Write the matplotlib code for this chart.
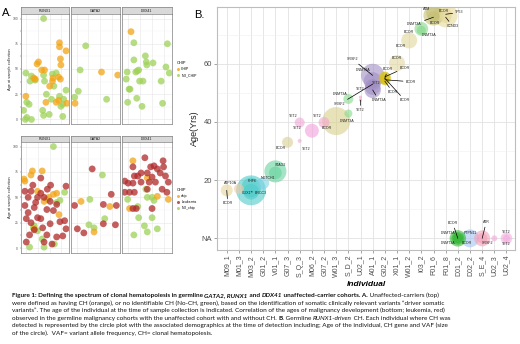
import numpy as np
import matplotlib
matplotlib.use("Agg")
import matplotlib.pyplot as plt
from matplotlib.lines import Line2D

W, H = 520, 344
PLOT_FONT = "Liberation Sans"
CAPTION_FONT = "Lato"
plt.rcParams["font.family"] = [PLOT_FONT, "DejaVu Sans"]

# ---------------------------------------------------------------- panel A data
FACETS = ["RUNX1", "GATA2", "DDX41"]

# (position inside facet 0-1, age at sample collection)
top_runx1_chip = [(0.81, 76), (0.81, 72), (0.95, 68), (0.83, 60), (0.84, 54), (0.33, 55), (0.36, 57),
                  (0.43, 49), (0.49, 49), (0.29, 40), (0.26, 41), (0.67, 41), (0.66, 38), (0.79, 42),
                  (0.83, 40), (0.60, 33), (0.09, 23), (0.52, 17), (0.74, 17), (0.79, 19), (0.97, 16)]
top_runx1_nochip = [(0.47, 100), (0.09, 46), (0.21, 43), (0.29, 39), (0.18, 38), (0.47, 44), (0.66, 45),
                    (0.74, 46), (0.49, 38), (0.69, 33), (0.95, 29), (0.53, 25), (0.81, 23), (0.64, 20),
                    (0.90, 20), (0.11, 17), (0.16, 15), (0.04, 9), (0.45, 9), (0.47, 4), (0.59, 5),
                    (0.88, 3), (0.11, 2), (0.08, 0), (0.21, 0), (0.88, 15), (0.84, 13)]
top_gata2_chip = [(0.63, 47), (0.98, 44), (0.06, 16)]
top_gata2_nochip = [(0.29, 73), (0.17, 49), (0.13, 28), (0.05, 22), (0.74, 20)]
top_ddx41_chip = [(0.17, 87)]
top_ddx41_nochip = [(0.23, 76), (0.93, 75), (0.47, 63), (0.23, 59), (0.49, 57), (0.50, 54), (0.63, 56),
                    (0.30, 48), (0.27, 47), (0.33, 49), (0.09, 47), (0.90, 52), (0.97, 46), (0.07, 40),
                    (0.35, 38), (0.42, 38), (0.13, 30), (0.15, 30), (0.80, 38), (0.29, 21), (0.10, 17),
                    (0.83, 16), (0.40, 13)]

bot_runx1_chip = [(0.05, 68), (0.23, 76), (0.44, 76), (0.20, 72), (0.68, 53), (0.34, 56), (0.48, 46),
                  (0.80, 33), (0.27, 19), (0.07, 66), (0.58, 50), (0.75, 54)]
bot_runx1_leuk = [(0.41, 69), (0.24, 62), (0.07, 56), (0.20, 56), (0.41, 54), (0.34, 50), (0.14, 50),
                  (0.48, 50), (0.61, 46), (0.75, 43), (0.07, 42), (0.27, 40), (0.54, 38), (0.14, 35),
                  (0.68, 37), (0.10, 29), (0.41, 29), (0.61, 24), (0.82, 26), (0.27, 18), (0.17, 13),
                  (0.54, 13), (0.75, 11), (0.88, 12), (0.10, 6), (0.48, 6), (0.65, 4), (0.95, 19),
                  (0.92, 27), (0.95, 61), (0.34, 30), (0.55, 58), (0.62, 62), (0.30, 45), (0.20, 25),
                  (0.45, 20)]
bot_runx1_nochip = [(0.68, 100), (0.27, 22), (0.34, 17), (0.75, 45), (0.92, 55), (0.82, 47), (0.44, 9),
                    (0.17, 1), (0.48, 1), (0.70, 4), (0.25, 20), (0.55, 48)]
bot_gata2_chip = [(0.19, 46), (0.81, 41), (0.47, 16)]
bot_gata2_leuk = [(0.43, 78), (0.84, 53), (0.05, 42), (0.67, 43), (0.95, 42), (0.11, 19), (0.25, 15),
                  (0.67, 24), (0.93, 23)]
bot_gata2_nochip = [(0.65, 72), (0.38, 48), (0.36, 23), (0.70, 29), (0.47, 20)]
bot_ddx41_chip = [(0.21, 86), (0.51, 69), (0.14, 39), (0.72, 51), (0.95, 48)]
bot_ddx41_leuk = [(0.46, 89), (0.21, 80), (0.84, 86), (0.04, 66), (0.11, 64), (0.21, 64), (0.24, 71),
                  (0.31, 71), (0.38, 74), (0.51, 74), (0.58, 80), (0.65, 81), (0.72, 78), (0.78, 74),
                  (0.85, 80), (0.89, 71), (0.61, 70), (0.68, 65), (0.55, 65), (0.38, 65), (0.14, 55),
                  (0.04, 55), (0.24, 55), (0.51, 58), (0.82, 58), (0.92, 55), (0.21, 39), (0.28, 39),
                  (0.61, 39), (0.95, 65)]
bot_ddx41_nochip = [(0.10, 48), (0.31, 41), (0.48, 58), (0.51, 50), (0.61, 50), (0.65, 47), (0.33, 30),
                    (0.61, 30), (0.45, 22), (0.51, 16), (0.72, 19), (0.23, 13)]

ORANGE, GREEN, RED = "#f2a516", "#9fd25a", "#b02a2a"

# ---------------------------------------------------------------- panel B data
individuals = ["M09_1", "M01_3", "M03_2", "G01_2", "V01_1", "G07_3", "S_Q_3", "M06_2", "G07_2",
               "W01_3", "S_D_2", "U02_1", "A01_1", "G02_2", "X01_1", "W01_2", "I03_2", "F01_6",
               "F01_8", "D01_2", "D02_2", "S_E_4", "U02_3", "U02_4"]
ind_colors = ["#e6d69c", "#f5c8a4", "#4fcaca", "#7dd3e4", "#66d39e", "#d8d092", "#f4a6d7", "#f29fdc",
              "#f4a6cf", "#dacf8a", "#86db8c", "#f2a0c8", "#a18fc4", "#d9c21c", "#e2d8a0", "#e0d89a",
              "#84d88a", "#c4bf74", "#e6da9c", "#38b838", "#a4c4f2", "#f3a0b8", "#f0a8d8", "#f4aee0"]

NA = np.nan
var_ind = ["M09_1", "M01_3", "M03_2", "M03_2", "M03_2", "G01_2", "V01_1", "V01_1", "G07_3", "S_Q_3",
           "S_Q_3", "M06_2", "G07_2", "W01_3", "S_D_2", "S_D_2", "U02_1", "U02_1", "A01_1", "A01_1",
           "A01_1", "A01_1", "A01_1", "G02_2", "G02_2", "G02_2", "G02_2", "G02_2", "X01_1", "W01_2",
           "I03_2", "I03_2", "F01_6", "F01_6", "F01_6", "F01_8", "F01_8", "F01_8", "D01_2", "D01_2",
           "D01_2", "D01_2", "D02_2", "S_E_4", "S_E_4", "U02_3", "U02_4", "U02_4"]
var_age = [16.5, 17, 16.5, 17.5, 16, 19, 23, 22.5, 33, 39.8, 33.5, 37, 39.8, 40.3, 42.9, 47.9, 48.5,
           47.5, 56, 54, 52, 51, 53, 55, 55.5, 54.5, 54, 55, 60.2, 68, 72, 71.5, 76.6, 77.5, 76, 76.6,
           77, 76, NA, NA, NA, NA, NA, NA, NA, NA, NA, NA]
var_vaf = [5.3, 3.7, 33, 14, 9, 5.3, 18, 6, 4.5, 3.7, 0.6, 7.2, 4.5, 29, 2.4, 3.7, 0.4, 0.4, 20, 12,
           9, 10, 3, 6, 4, 3, 2.5, 2, 9.5, 9.5, 7, 3, 15, 8, 5, 21, 6, 5, 10, 6, 4, 3, 12, 9.5, 4,
           1.3, 5, 2]
var_gene = ["BCOR", "ATP10A", "CUX1", "PHF6", "BRCC3", "CUX1", "STAG2", "NOTCH1", "BCOR", "TET2",
            "TET2", "TET2", "TET2", "BCOR", "DNMT3A", "DNMT3A", "TET2", "TET2", "SRSF2", "DNMT3A",
            "TET2", "DNMT3A", "SRSF2", "BCOR", "BCOR", "BCOR", "BCOR", "BCOR", "BCOR", "BCOR", "BCOR",
            "DNMT3A", "BCOR", "ATM", "DNMT3A", "BCOR", "TP53", "CCND3", "DNMT3A", "DNMT3A", "BCOR",
            "BCOR", "PTPN11", "ATR", "SRSF2", "TET2", "TET2", "TET2"]
# label offsets in pixels (dx, dy) and whether a leader line is drawn
lab_dx = [1, -8, -4, 1, 10, None, 5, -7, -7, -6, 7, -15, -7, -9, -1, -8, 0, 0, -20, -10, 4, 6, -33,
          3, 20, 26, 8, 20, 0, -8, -12, 8, 1, -7, -19, -2, 14, 7, -10, -10, -5, 9, 0, 4, 5, None, 0, 0]
lab_dy = [-13, 6, -3, 6, -1, None, 6, -5, -6, 7, -8, 3, 7, -7, -7, 5, 8, -10, 16, 11, 4, -10, -20,
          9, 9, -2, -11, -22, 5, -6, -3, -5, -8, 4, -7, 4, 2, -9, 5, -5, 15, -5, 5, 16, -5, None, 6, -6]
lab_line = [1, 0, 0, 0, 1, 0, 0, 0, 0, 0, 0, 0, 0, 0, 0, 0, 0, 1, 1, 0, 0, 1, 1,
            1, 1, 1, 1, 1, 0, 0, 0, 0, 0, 0, 1, 0, 1, 1, 0, 0, 1, 0, 0, 1, 0, 0, 0, 0]


def box(x0, y0, x1, y1):
    return [x0 / W, 1 - y1 / H, (x1 - x0) / W, (y1 - y0) / H]


def facet_row(fig, strip_y, panel_y, groups):
    xs = [(20.7, 69.3), (71.3, 119.6), (121.9, 171.7)]
    for k, name in enumerate(FACETS):
        x0, x1 = xs[k]
        st = fig.add_axes(box(x0, strip_y[0], x1, strip_y[1]))
        st.set_facecolor("#d9d9d9")
        st.set_xticks([]); st.set_yticks([])
        for s in st.spines.values():
            s.set_color("#7f7f7f"); s.set_linewidth(0.5)
        st.text(0.5, 0.5, name, ha="center", va="center", fontsize=2.6, color="#1a1a1a")

        ax = fig.add_axes(box(x0, panel_y[0], x1, panel_y[1]))
        ax.set_xlim(-0.02, 1.02)
        ax.set_ylim(-4.5, 104.5)
        ax.set_yticks([0, 25, 50, 75, 100])
        ax.set_yticks([12.5, 37.5, 62.5, 87.5], minor=True)
        ax.set_xticks([0.1, 0.35, 0.6, 0.85])
        ax.grid(which="major", color="#e6e6e6", lw=0.4)
        ax.grid(which="minor", axis="y", color="#f2f2f2", lw=0.3)
        ax.set_axisbelow(True)
        ax.tick_params(axis="x", length=0, labelbottom=False)
        ax.tick_params(axis="y", which="both", length=1, width=0.3, colors="#555555", labelsize=2.4, pad=0.8)
        if k > 0:
            ax.tick_params(axis="y", which="both", length=0, labelleft=False)
        for s in ax.spines.values():
            s.set_color("#7f7f7f"); s.set_linewidth(0.5)
        for pts, col in groups[k]:
            p = np.array(pts)
            ax.scatter(p[:, 0], p[:, 1], s=24, color=col, alpha=0.75, edgecolors="none")
    fig.text(10 / W, 1 - (panel_y[0] + panel_y[1]) / 2 / H, "Age at sample collection",
             rotation=90, ha="center", va="center", fontsize=2.8, color="#222222")


def advance(fig, r, s, kw):
    a = fig.text(0, 0, s + "|", **kw)
    b = fig.text(0, 0, "|", **kw)
    w = a.get_window_extent(r).width - b.get_window_extent(r).width
    a.remove(); b.remove()
    return w


def rich_line(fig, x, y, runs, size):
    r = fig.canvas.get_renderer()
    styles = {"n": ("normal", "normal"), "b": ("bold", "normal"),
              "i": ("normal", "italic"), "bi": ("bold", "italic")}
    for text, st in runs:
        wt, sl = styles[st]
        kw = dict(fontsize=size, fontweight=wt, fontstyle=sl, family=CAPTION_FONT, color="#111111")
        fig.text(x / W, 1 - y / H, text, ha="left", va="baseline", **kw)
        x += advance(fig, r, text, kw)


fig = plt.figure(figsize=(W / 100, H / 100), dpi=100)

# ---------------------------------------------------------------- panel A
facet_row(fig, (7.3, 14), (14, 124),
          [[(top_runx1_nochip, GREEN), (top_runx1_chip, ORANGE)],
           [(top_gata2_nochip, GREEN), (top_gata2_chip, ORANGE)],
           [(top_ddx41_nochip, GREEN), (top_ddx41_chip, ORANGE)]])
facet_row(fig, (136, 142), (142, 252.7),
          [[(bot_runx1_nochip, GREEN), (bot_runx1_chip, ORANGE), (bot_runx1_leuk, RED)],
           [(bot_gata2_nochip, GREEN), (bot_gata2_chip, ORANGE), (bot_gata2_leuk, RED)],
           [(bot_ddx41_nochip, GREEN), (bot_ddx41_chip, ORANGE), (bot_ddx41_leuk, RED)]])


def dot(c):
    return Line2D([], [], ls="", marker="o", ms=2.2, color=c, alpha=0.8, mec="none")


leg_kw = dict(loc="upper left", frameon=False, fontsize=2.5, title_fontsize=2.8,
              handletextpad=0.3, labelspacing=0.6, borderpad=0, handlelength=1)
l1 = fig.legend([dot(ORANGE), dot(GREEN)], ["CHIP", "NO_CHIP"], title="CHIP",
                bbox_to_anchor=(175 / W, 1 - 59 / H), **leg_kw)
l1._legend_box.align = "left"
l2 = fig.legend([dot(ORANGE), dot(RED), dot(GREEN)], ["chip", "Leukemia", "NO_chip"], title="CHIP",
                bbox_to_anchor=(175 / W, 1 - 186 / H), **leg_kw)
l2._legend_box.align = "left"

fig.text(2 / W, 1 - 13 / H, "A.", fontsize=8, ha="left", va="center")
fig.text(194 / W, 1 - 15 / H, "B.", fontsize=8, ha="left", va="center")

# ---------------------------------------------------------------- panel B
axb = fig.add_axes(box(217, 7, 515, 250))
xpos = np.array([individuals.index(v) for v in var_ind])
ypos = np.nan_to_num(np.array(var_age, dtype=float), nan=0.0)
vaf = np.array(var_vaf)
cols = [ind_colors[i] for i in xpos]
order = np.argsort(-vaf)
axb.scatter(xpos[order], ypos[order], s=vaf[order] * 14, c=[cols[i] for i in order],
            alpha=0.6, edgecolors="none", zorder=2)
for i in range(len(var_gene)):
    if lab_dx[i] is None:
        continue
    arrow = dict(arrowstyle="-", lw=0.5, color="black", shrinkA=0, shrinkB=0) if lab_line[i] else None
    axb.annotate(var_gene[i], xy=(xpos[i], ypos[i]), xytext=(lab_dx[i] * 0.72, lab_dy[i] * 0.72),
                 textcoords="offset points", fontsize=2.6, ha="center", va="center",
                 color="#222222", arrowprops=arrow, zorder=3)

axb.set_xlim(-0.8, len(individuals) - 0.3)
axb.set_ylim(-4, 79.5)
axb.set_xticks(range(len(individuals)))
axb.set_xticklabels(individuals, rotation=90, fontsize=5, color="#4d4d4d")
axb.set_yticks([0, 20, 40, 60])
axb.set_yticklabels(["NA", "20", "40", "60"], fontsize=5.5, color="#4d4d4d")
axb.set_yticks([10, 30, 50, 70], minor=True)
axb.grid(which="major", color="#e2e2e2", lw=0.6)
axb.grid(which="minor", axis="y", color="#f0f0f0", lw=0.4)
axb.set_axisbelow(True)
axb.tick_params(which="both", length=2, width=0.5, color="#7f7f7f", pad=1.5)
axb.tick_params(which="minor", length=0)
for s in axb.spines.values():
    s.set_color("#bdbdbd"); s.set_linewidth(0.8)
axb.set_ylabel("Age(Yrs)", fontsize=6.5, color="#222222", labelpad=2)
axb.set_xlabel("Individual", fontsize=6, fontweight="bold", fontstyle="italic", labelpad=3)

# ---------------------------------------------------------------- caption
cap_size = 4.6
lines = [
    [("Figure 1: Defining the spectrum of clonal hematopoiesis in germline ", "b"), ("GATA2, RUNX1", "bi"),
     (" and ", "b"), ("DDX41", "bi"), (" unaffected-carrier cohorts. A.", "b"), (" Unaffected-carriers (top)", "n")],
    [("were defined as having CH (orange), or no identifiable CH (No-CH, green), based on the identification "
      "of somatic clinically relevant variants \u201cdriver somatic", "n")],
    [("variants\u201d. The age of the individual at the time of sample collection is indicated. Correlation of "
      "the ages of malignancy development (bottom; leukemia, red)", "n")],
    [("observed in the germline malignancy cohorts with the unaffected cohort with and without CH. ", "n"),
     ("B.", "b"), (" Germline ", "n"), ("RUNX1-driven", "i"), (" CH. Each individual where CH was", "n")],
    [("detected is represented by the circle plot with the associated demographics at the time of detection "
      "including; Age of the individual, CH gene and VAF (size", "n")],
    [("of the circle).  VAF= variant allele frequency, CH= clonal hematopoiesis.", "n")],
]
for k, runs in enumerate(lines):
    rich_line(fig, 12, 297 + k * 7.6, runs, cap_size)

fig.savefig("out.png", dpi=100)
